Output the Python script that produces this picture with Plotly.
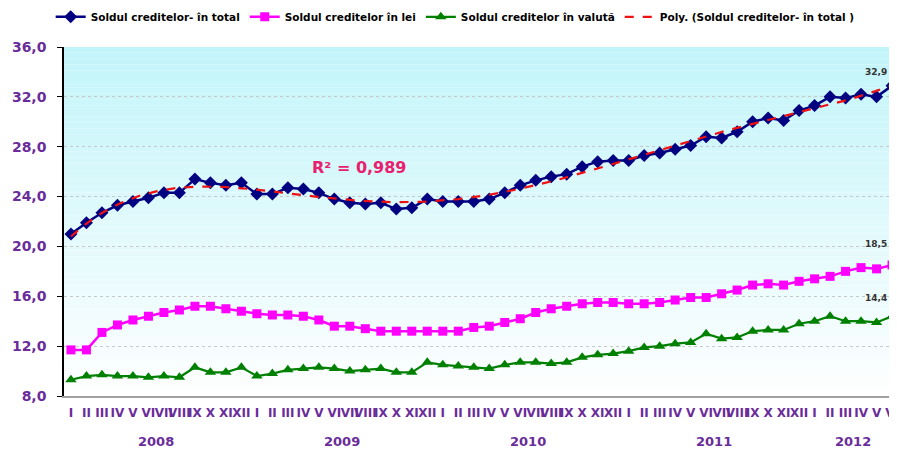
import numpy as np
import plotly.graph_objects as go

months = ["I", "II", "III", "IV", "V", "VI", "VII", "VIII", "IX", "X", "XI", "XII"]
years = ["2008", "2009", "2010", "2011", "2012"]
month_labels = months * 4 + months[:6]

total = [21.0, 21.9, 22.7, 23.3, 23.6, 23.9, 24.3, 24.3, 25.4, 25.1, 24.9, 25.1,
         24.2, 24.2, 24.7, 24.6, 24.3, 23.8, 23.5, 23.4, 23.5, 23.0, 23.1, 23.8,
         23.6, 23.6, 23.6, 23.8, 24.3, 24.9, 25.3, 25.6, 25.8, 26.4, 26.8, 26.9,
         26.9, 27.3, 27.5, 27.8, 28.1, 28.8, 28.7, 29.2, 30.0, 30.3, 30.1, 30.9,
         31.3, 32.0, 31.9, 32.2, 32.0, 32.9]
lei = [11.7, 11.7, 13.1, 13.7, 14.1, 14.4, 14.7, 14.9, 15.2, 15.2, 15.0, 14.8,
       14.6, 14.5, 14.5, 14.4, 14.1, 13.6, 13.6, 13.4, 13.2, 13.2, 13.2, 13.2,
       13.2, 13.2, 13.5, 13.6, 13.9, 14.2, 14.7, 15.0, 15.2, 15.4, 15.5, 15.5,
       15.4, 15.4, 15.5, 15.7, 15.9, 15.9, 16.2, 16.5, 16.9, 17.0, 16.9, 17.2,
       17.4, 17.6, 18.0, 18.3, 18.2, 18.5]
valuta = [9.3, 9.6, 9.7, 9.6, 9.6, 9.5, 9.6, 9.5, 10.3, 9.9, 9.9, 10.3,
          9.6, 9.8, 10.1, 10.2, 10.3, 10.2, 10.0, 10.1, 10.2, 9.9, 9.9, 10.7,
          10.5, 10.4, 10.3, 10.2, 10.5, 10.7, 10.7, 10.6, 10.7, 11.1, 11.3, 11.4,
          11.6, 11.9, 12.0, 12.2, 12.3, 13.0, 12.6, 12.7, 13.2, 13.3, 13.3, 13.8,
          14.0, 14.4, 14.0, 14.0, 13.9, 14.4]

names = ["Soldul creditelor- în total", "Soldul creditelor în lei",
         "Soldul creditelor în valută", "Poly. (Soldul creditelor- în total )"]
r2_text = "R² = 0,989"

x = np.arange(len(total))
coef = np.polyfit(x + 1, total, 6)
xf = np.linspace(0, len(total) - 1, 300)
yf = np.polyval(coef, xf + 1)

FONT = "DejaVu Sans"
purple = "#6a2c9a"
fig = go.Figure()

# gradient background
nb = 60
for k in range(nb):
    t = k / (nb - 1)
    r = int(255 + (194 - 255) * t)
    g = int(255 + (245 - 255) * t)
    b = int(255 + (250 - 255) * t)
    fig.add_shape(type="rect", xref="x domain", yref="y domain",
                  x0=0, x1=1, y0=k / nb, y1=(k + 1) / nb,
                  fillcolor=f"rgb({r},{g},{b})", line_width=0, layer="below")

fig.add_trace(go.Scatter(x=x, y=total, name=names[0], mode="lines+markers",
                         line=dict(color="#000080", width=2.5),
                         marker=dict(symbol="diamond", size=10, color="#000080")))
fig.add_trace(go.Scatter(x=x, y=lei, name=names[1], mode="lines+markers",
                         line=dict(color="#ff00ff", width=2.5),
                         marker=dict(symbol="square", size=9, color="#ff00ff")))
fig.add_trace(go.Scatter(x=x, y=valuta, name=names[2], mode="lines+markers",
                         line=dict(color="#008000", width=2.2),
                         marker=dict(symbol="triangle-up", size=10, color="#008000")))
fig.add_trace(go.Scatter(x=xf, y=yf, name=names[3], mode="lines",
                         line=dict(color="#ee1111", width=2.2, dash="dash")))

for series, ys in ((total, 7), (lei, 14), (valuta, 11)):
    fig.add_annotation(x=x[-1], y=series[-1], text=f"{series[-1]:.1f}".replace(".", ","),
                       showarrow=False, xanchor="right", yanchor="bottom",
                       xshift=-3, yshift=ys,
                       font=dict(family=FONT, size=9, color="#333333", weight="bold"))

fig.add_annotation(x=18.6, y=26.3, text=r2_text, showarrow=False,
                   font=dict(family=FONT, size=16, color="#e8206e", weight="bold"))

for j, yr in enumerate(years):
    n = 12 if j < 4 else 6
    fig.add_annotation(x=j * 12 + (n - 1) / 2, y=0, yref="paper", yshift=-45,
                       text=yr, showarrow=False, yanchor="middle",
                       font=dict(family=FONT, size=13, color=purple, weight="bold"))

fig.update_layout(
    width=889, height=443,
    margin=dict(l=56, r=0, t=39, b=55),
    paper_bgcolor="white", plot_bgcolor="white",
    separators=",.",
    showlegend=True,
    legend=dict(orientation="h", xref="container", yref="container",
                x=0.503, xanchor="center", y=0.98, yanchor="middle",
                font=dict(family=FONT, size=10.5, color="black", weight="bold"),
                bgcolor="rgba(0,0,0,0)", itemwidth=30, tracegroupgap=0),
)
fig.update_xaxes(range=[-0.45, 53.32], tickmode="array", tickvals=x, ticktext=month_labels,
                 tickangle=0, showgrid=False, zeroline=False, automargin=False,
                 showline=True, linecolor="#a0a0a0", linewidth=1.5, ticks="",
                 ticklabelstandoff=5, ticklabeloverflow="allow",
                 tickfont=dict(family=FONT, size=12, color=purple, weight="bold"))
fig.update_yaxes(range=[8, 36], dtick=4, tick0=8, tickformat=".1f", automargin=False,
                 showgrid=True, gridcolor="#c8c8c8", griddash="dot", gridwidth=1,
                 zeroline=False, showline=True, linecolor="black", linewidth=1.5,
                 ticks="outside", ticklen=5, tickcolor="black", ticklabelstandoff=8,
                 tickfont=dict(family=FONT, size=14, color=purple, weight="bold"))

fig.write_html("out.html")
